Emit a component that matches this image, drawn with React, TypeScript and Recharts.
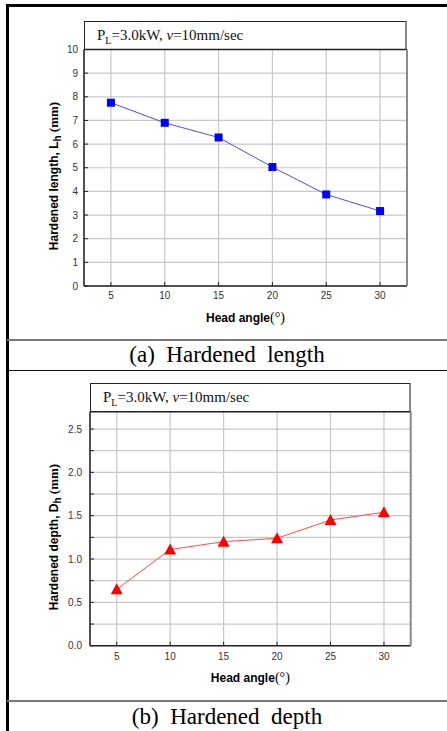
import React from 'react'
import { LineChart, Line, XAxis, YAxis, CartesianGrid } from 'recharts'

const angles = [5, 10, 15, 20, 25, 30]
const lengthValues = [7.75, 6.9, 6.28, 5.03, 3.87, 3.17]
const depthValues = [0.65, 1.11, 1.2, 1.24, 1.45, 1.54]
const angleTicks = [5, 10, 15, 20, 25, 30]
const lengthTicks = [0, 1, 2, 3, 4, 5, 6, 7, 8, 9, 10]
const depthTicks = [0, 0.25, 0.5, 0.75, 1, 1.25, 1.5, 1.75, 2, 2.25, 2.5]

const lengthData = angles.map((a, i) => ({ angle: a, v: lengthValues[i] }))
const depthData = angles.map((a, i) => ({ angle: a, v: depthValues[i] }))

const SANS = '"Liberation Sans", Arial, sans-serif'
const SERIF = '"Liberation Serif", "Times New Roman", serif'
const tickStyle = { fontFamily: SANS, fontSize: 10, fill: '#333' }
const dark = { stroke: '#222', strokeWidth: 1.5 }
const grey = { stroke: '#8a8a8a', strokeWidth: 2 }

const SquareDot = (p: any) => (
  <rect key={`s-${p.index}`} x={p.cx - 4} y={p.cy - 4} width={8} height={8} fill="#0000ff" />
)
const TriDot = (p: any) => (
  <polygon
    key={`t-${p.index}`}
    points={`${p.cx},${p.cy - 6} ${p.cx - 6},${p.cy + 5} ${p.cx + 6},${p.cy + 5}`}
    fill="#ff0000"
  />
)

function Panel(props: {
  top: number
  height: number
  left: number
  right: number
  plotTop: number
  plotBottom: number
  data: { angle: number; v: number }[]
  yDomain: [number, number]
  yTicks: number[]
  yFmt: (v: number) => string
  yMargin: number
  xMargin: number
  color: string
  dot: (p: any) => React.ReactElement
  yLabel: string
  sub: string
}) {
  const { top, height, left, right, plotTop, plotBottom } = props
  const width = 447
  const yW = 30
  const xH = 30
  const plotMidY = (plotTop + plotBottom) / 2 + 8
  return (
    <>
      {/* title box */}
      <div
        style={{
          position: 'absolute',
          left,
          top: top + plotTop - 28.5,
          width: right - left,
          height: 28.5,
          boxSizing: 'border-box',
          borderLeft: '1.5px solid #222',
          borderTop: '1.5px solid #222',
          borderRight: '2px solid #8a8a8a',
          fontFamily: SERIF,
          fontSize: 15,
          paddingLeft: 12,
          lineHeight: '27px',
          color: '#111',
        }}
      >
        P<sub style={{ fontSize: 10 }}>L</sub>=3.0kW, <i>v</i>=10mm/sec
      </div>
      <div style={{ position: 'absolute', left: 0, top, width, height }}>
        <LineChart
          width={width}
          height={height}
          data={props.data}
          margin={{
            top: plotTop - 1,
            right: width - right - 1,
            bottom: height - plotBottom - xH,
            left: left - yW,
          }}
        >
          <CartesianGrid stroke="#c8c8c8" strokeWidth={1.2} />
          <XAxis
            dataKey="angle"
            type="number"
            domain={[2.5, 32.5]}
            ticks={angleTicks}
            interval={0}
            height={xH}
            tickSize={-4}
            tickMargin={props.xMargin}
            tick={tickStyle}
            axisLine={dark}
            tickLine={{ stroke: '#222' }}
          />
          <XAxis
            xAxisId="top"
            orientation="top"
            dataKey="angle"
            type="number"
            domain={[2.5, 32.5]}
            ticks={angleTicks}
            interval={0}
            height={1}
            tickSize={-4}
            tick={false}
            axisLine={dark}
            tickLine={{ stroke: '#222' }}
          />
          <YAxis
            type="number"
            domain={props.yDomain}
            ticks={props.yTicks}
            interval={0}
            width={yW}
            tickSize={-4}
            tickMargin={props.yMargin}
            tick={tickStyle}
            tickFormatter={props.yFmt}
            axisLine={dark}
            tickLine={{ stroke: '#222' }}
          />
          <YAxis
            yAxisId="r"
            orientation="right"
            type="number"
            domain={props.yDomain}
            ticks={props.yTicks}
            interval={0}
            width={1}
            tickSize={-4}
            tick={false}
            axisLine={grey}
            tickLine={{ stroke: '#222' }}
          />
          <Line
            dataKey="v"
            stroke={props.color}
            strokeWidth={1}
            dot={props.dot}
            activeDot={false}
            isAnimationActive={false}
          />
        </LineChart>
      </div>
      {/* y axis title */}
      <div
        style={{
          position: 'absolute',
          left: 54 - 100,
          top: top + plotMidY - 9,
          width: 200,
          height: 18,
          lineHeight: '18px',
          transform: 'rotate(-90deg)',
          textAlign: 'center',
          fontFamily: SANS,
          fontWeight: 'bold',
          fontSize: 12,
          whiteSpace: 'nowrap',
        }}
      >
        {props.yLabel}, {props.sub}
        <sub style={{ fontSize: 10 }}>h</sub>
        <span style={{ fontFamily: SERIF, fontWeight: 'bold', fontSize: 13 }}> (mm)</span>
      </div>
      {/* x axis title */}
      <div
        style={{
          position: 'absolute',
          left: (left + right) / 2 - 100,
          top: top + plotBottom + 24,
          width: 200,
          textAlign: 'center',
          fontFamily: SANS,
          fontWeight: 'bold',
          fontSize: 12,
          whiteSpace: 'nowrap',
        }}
      >
        Head angle<span style={{ fontFamily: SERIF, fontWeight: 'normal', fontSize: 14 }}>(°)</span>
      </div>
    </>
  )
}

const captionStyle: React.CSSProperties = {
  position: 'absolute',
  left: 7,
  width: 440,
  textAlign: 'center',
  fontFamily: SERIF,
  fontSize: 23,
  whiteSpace: 'pre',
  height: 30,
  lineHeight: '30px',
}

export default function App() {
  return (
    <div
      style={{
        position: 'absolute',
        left: 0,
        top: 0,
        width: 447,
        height: 731,
        overflow: 'hidden',
        background: '#fff',
      }}
    >
      {/* frame */}
      <div style={{ position: 'absolute', left: 6, top: 4, width: 441, height: 2.5, background: '#000' }} />
      <div style={{ position: 'absolute', left: 6, top: 4, width: 2.5, height: 727, background: '#000' }} />
      <div style={{ position: 'absolute', left: 7, top: 339, width: 440, height: 2, background: '#777' }} />
      <div style={{ position: 'absolute', left: 7, top: 370, width: 440, height: 1, background: '#111' }} />
      <div style={{ position: 'absolute', left: 7, top: 700, width: 440, height: 2, background: '#777' }} />

      <Panel
        top={0}
        height={339}
        left={84}
        right={407}
        plotTop={49.5}
        plotBottom={286}
        data={lengthData}
        yDomain={[0, 10]}
        yTicks={lengthTicks}
        yFmt={(v) => String(v)}
        yMargin={10}
        xMargin={10}
        color="#4a4aff"
        dot={SquareDot}
        yLabel="Hardened length"
        sub="L"
      />
      <div style={{ ...captionStyle, top: 340 }}>(a)  Hardened  length</div>

      <Panel
        top={371}
        height={329}
        left={90}
        right={410.7}
        plotTop={40.7}
        plotBottom={274.7}
        data={depthData}
        yDomain={[0, 2.7]}
        yTicks={depthTicks}
        yFmt={(v) => (Math.round(v * 4) % 2 === 0 ? v.toFixed(1) : '')}
        yMargin={12}
        xMargin={11}
        color="#ff4a4a"
        dot={TriDot}
        yLabel="Hardened depth"
        sub="D"
      />
      <div style={{ ...captionStyle, top: 702 }}>(b)  Hardened  depth</div>
    </div>
  )
}
